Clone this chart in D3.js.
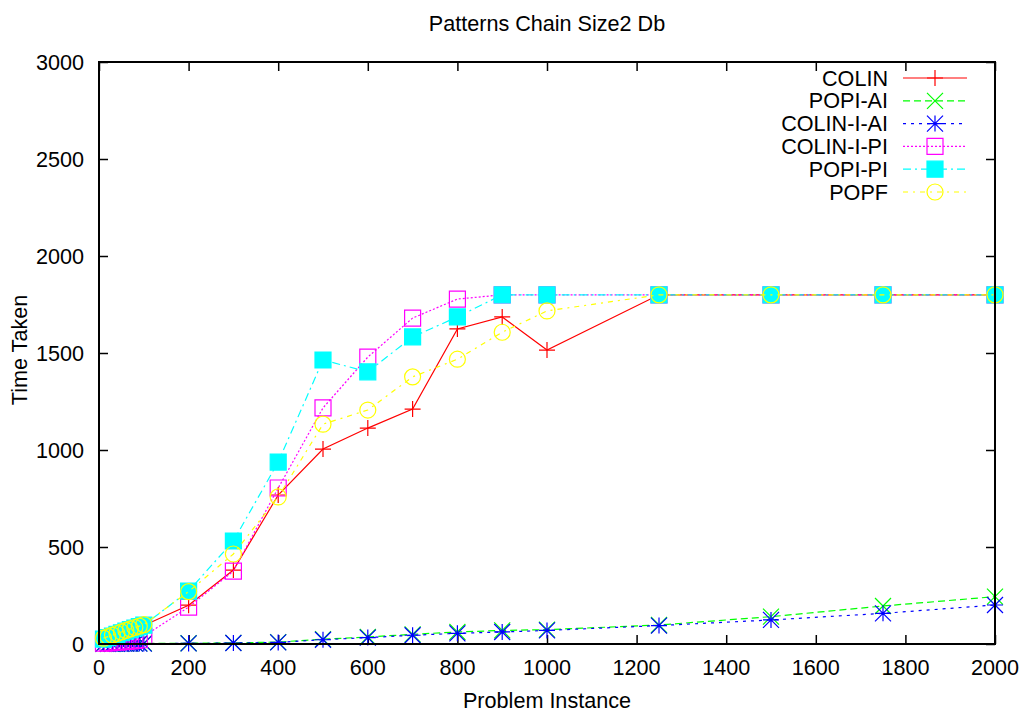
<!DOCTYPE html>
<html>
<head>
<meta charset="utf-8">
<script src="https://cdn.jsdelivr.net/npm/d3@7"></script>
<style>
  html, body { margin: 0; padding: 0; background: #fff; }
  svg text { font-family: "Liberation Sans", Arial, Helvetica, sans-serif; fill: #000; }
</style>
</head>
<body>
<svg id="chart" width="1027" height="716"></svg>
<script>
// Problem instance sizes (x values)
const xs = [10, 20, 30, 40, 50, 60, 70, 80, 90, 100, 200, 300, 400, 500, 600, 700, 800, 900, 1000, 1250, 1500, 1750, 2000];

// Time taken per planner, one value per instance
const colin     = [20, 28, 37, 45, 54, 62, 70, 78, 86, 95, 200, 381, 768, 1005, 1113, 1211, 1624, 1686, 1515, 1800, 1800, 1800, 1800];
const popiAI    = [1, 1, 1, 2, 2, 2, 2, 3, 3, 3, 4, 6, 10, 25, 36, 50, 62, 70, 74, 98, 141, 196, 244];
const colinIAI  = [1, 1, 1, 1, 1, 2, 2, 2, 2, 2, 3, 5, 8, 22, 33, 45, 55, 62, 70, 95, 124, 158, 201];
const colinIPI  = [4, 6, 8, 10, 12, 14, 16, 18, 22, 40, 190, 376, 804, 1217, 1479, 1680, 1778, 1800, 1800, 1800, 1800, 1800, 1800];
const popiPI    = [25, 33, 41, 50, 58, 66, 74, 82, 90, 97, 273, 531, 938, 1464, 1403, 1583, 1686, 1800, 1800, 1800, 1800, 1800, 1800];
const popf      = [30, 38, 46, 54, 62, 70, 78, 85, 92, 100, 270, 464, 758, 1133, 1206, 1377, 1468, 1607, 1717, 1800, 1800, 1800, 1800];

const xTicks = [0, 200, 400, 600, 800, 1000, 1200, 1400, 1600, 1800, 2000];
const yTicks = [0, 500, 1000, 1500, 2000, 2500, 3000];

const seriesNames = ["COLIN", "POPI-AI", "COLIN-I-AI", "COLIN-I-PI", "POPI-PI", "POPF"];
const seriesValues = [colin, popiAI, colinIAI, colinIPI, popiPI, popf];
const seriesColors = ["#ff0000", "#00ff00", "#0000ff", "#ff00ff", "#00ffff", "#ffff00"];
const seriesDash = [null, "7,4", "3,5", "2,2", "8,4,2,4", "5,5,2,5"];
const seriesMarker = ["plus", "cross", "star", "box", "fbox", "circle"];

const svg = d3.select("#chart");
const plotLeft = 99, plotRight = 995, plotTop = 62, plotBottom = 644;
const FONT = 21.6;

const x = d3.scaleLinear().domain([0, 2000]).range([plotLeft, plotRight]);
const y = d3.scaleLinear().domain([0, 3000]).range([plotBottom, plotTop]);

// Marker path around a centre point
function markerPath(type, cx, cy) {
  const s = 8;
  const p = d3.path();
  if (type === "plus" || type === "star") {
    p.moveTo(cx - s, cy); p.lineTo(cx + s, cy);
    p.moveTo(cx, cy - s); p.lineTo(cx, cy + s);
  }
  if (type === "cross" || type === "star") {
    p.moveTo(cx - s, cy - s); p.lineTo(cx + s, cy + s);
    p.moveTo(cx - s, cy + s); p.lineTo(cx + s, cy - s);
  }
  if (type === "box" || type === "fbox") {
    p.rect(cx - s, cy - s, 2 * s, 2 * s);
  }
  if (type === "circle") {
    p.moveTo(cx + s, cy);
    p.arc(cx, cy, s, 0, 2 * Math.PI);
  }
  return p.toString();
}

function drawMarker(g, type, color, cx, cy) {
  g.append("path")
    .attr("d", markerPath(type, cx, cy))
    .attr("fill", type === "fbox" ? color : "none")
    .attr("stroke", color)
    .attr("stroke-width", 1.2);
}

// Axes: ticks inside the frame, mirrored on top and right
const xAxisB = d3.axisBottom(x).tickValues(xTicks).tickSize(-9).tickFormat("");
const xAxisT = d3.axisTop(x).tickValues(xTicks).tickSize(-9).tickFormat("");
const yAxisL = d3.axisLeft(y).tickValues(yTicks).tickSize(-9).tickFormat("");
const yAxisR = d3.axisRight(y).tickValues(yTicks).tickSize(-9).tickFormat("");

[[xAxisB, `translate(0,${plotBottom})`], [xAxisT, `translate(0,${plotTop})`],
 [yAxisL, `translate(${plotLeft},0)`], [yAxisR, `translate(${plotRight},0)`]].forEach(([ax, tr]) => {
  const g = svg.append("g").attr("transform", tr).call(ax);
  g.select(".domain").remove();
  g.selectAll(".tick line").attr("stroke", "#000").attr("stroke-width", 1.5);
});

// Tick labels
svg.append("g").selectAll("text").data(xTicks).join("text")
  .attr("x", d => x(d)).attr("y", 675)
  .attr("text-anchor", "middle").attr("font-size", FONT)
  .text(d => d);
svg.append("g").selectAll("text").data(yTicks).join("text")
  .attr("x", 84).attr("y", d => y(d) + 7.5)
  .attr("text-anchor", "end").attr("font-size", FONT)
  .text(d => d);

// Data series
const plot = svg.append("g");
seriesValues.forEach((vals, i) => {
  const pts = xs.map((xv, j) => [xv, vals[j]]);
  const line = d3.line().x(d => x(d[0])).y(d => y(d[1]));
  plot.append("path")
    .attr("d", line(pts))
    .attr("fill", "none")
    .attr("stroke", seriesColors[i])
    .attr("stroke-width", 1.2)
    .attr("stroke-dasharray", seriesDash[i]);
  const mg = plot.append("g");
  pts.forEach(d => drawMarker(mg, seriesMarker[i], seriesColors[i], x(d[0]), y(d[1])));
});

// Frame
svg.append("rect")
  .attr("x", plotLeft).attr("y", plotTop)
  .attr("width", plotRight - plotLeft).attr("height", plotBottom - plotTop)
  .attr("fill", "none").attr("stroke", "#000").attr("stroke-width", 2);

// Legend
const legend = svg.append("g");
seriesNames.forEach((name, i) => {
  const ly = 78 + i * 22.8;
  legend.append("text")
    .attr("x", 888).attr("y", ly + 7.5)
    .attr("text-anchor", "end").attr("font-size", FONT)
    .text(name);
  legend.append("line")
    .attr("x1", 903).attr("x2", 967).attr("y1", ly).attr("y2", ly)
    .attr("stroke", seriesColors[i]).attr("stroke-width", 1.2)
    .attr("stroke-dasharray", seriesDash[i]);
  drawMarker(legend, seriesMarker[i], seriesColors[i], 935, ly);
});

// Titles
svg.append("text")
  .attr("x", (plotLeft + plotRight) / 2).attr("y", 31)
  .attr("text-anchor", "middle").attr("font-size", FONT)
  .text("Patterns Chain Size2 Db");
svg.append("text")
  .attr("x", (plotLeft + plotRight) / 2).attr("y", 708)
  .attr("text-anchor", "middle").attr("font-size", FONT)
  .text("Problem Instance");
svg.append("text")
  .attr("transform", `translate(27,350) rotate(-90)`)
  .attr("text-anchor", "middle").attr("font-size", FONT)
  .text("Time Taken");
</script>
</body>
</html>
